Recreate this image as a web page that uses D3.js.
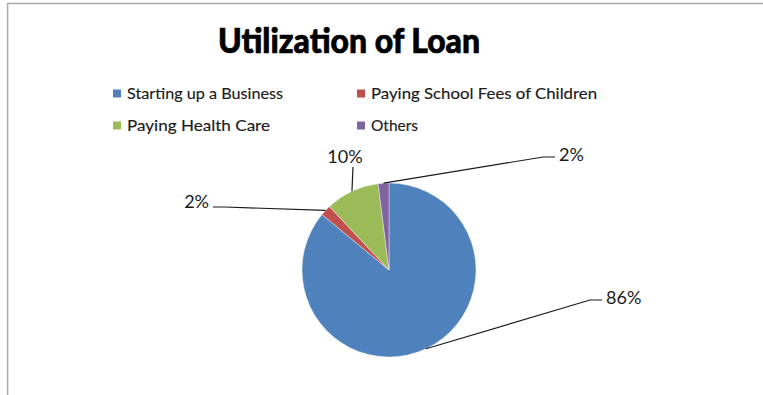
<!DOCTYPE html>
<html>
<head>
<meta charset="utf-8">
<script src="https://cdn.jsdelivr.net/npm/d3@7"></script>
<style>
  html, body { margin: 0; padding: 0; background: #fff; }
  svg { display: block; }
</style>
</head>
<body>
<svg id="chart" width="763" height="395"></svg>
<script>
// Loan usage shares (percent of respondents)
const categories = [
  "Starting up a Business",
  "Paying School Fees of Children",
  "Paying Health Care",
  "Others"
];
const shares = [86, 2, 10, 2];
const sliceColors = ["#4F81BD", "#C0504D", "#9BBB59", "#8064A2"];
const titleText = "Utilization of Loan";

// Layout settings
const W = 763, H = 395;
const cx = 389, cy = 270, radius = 87;
// Where each data label sits, relative to the pie centre.
// side: which side of the label the leader line leaves from.
const labelLayout = [
  { dx: 213, dy: 30, side: "right" },   // 86%
  { dx: -176, dy: -63, side: "left" },  // 2%
  { dx: -36, dy: -103, side: "top" },   // 10%
  { dx: 166, dy: -113, side: "right" }  // 2%
];

const svg = d3.select("#chart");

// Frame edges
svg.append("line")
  .attr("x1", 7).attr("x2", W).attr("y1", 3.6).attr("y2", 3.6)
  .attr("stroke", "#a9a9a9").attr("stroke-width", 1.5);
svg.append("line")
  .attr("x1", 7.6).attr("x2", 7.6).attr("y1", 3).attr("y2", H)
  .attr("stroke", "#a9a9a9").attr("stroke-width", 1.5);

// Title
svg.append("text")
  .attr("x", 218).attr("y", 53)
  .attr("textLength", 262).attr("lengthAdjust", "spacingAndGlyphs")
  .attr("font-family", "Lato, 'DejaVu Sans', sans-serif")
  .attr("font-weight", 900)
  .attr("font-size", 34)
  .attr("fill", "#000")
  .attr("stroke", "#000")
  .attr("stroke-width", 0.7)
  .text(titleText);

// Legend (two columns, two rows)
const legendCols = [113, 357];
const legendRows = [89.5, 121.5];
const legendWidths = [156, 226, 143, 47];
const legend = svg.append("g");
categories.forEach((name, i) => {
  const x = legendCols[i % 2], y = legendRows[Math.floor(i / 2)];
  legend.append("rect")
    .attr("x", x).attr("y", y).attr("width", 8).attr("height", 8)
    .attr("fill", sliceColors[i]);
  legend.append("text")
    .attr("x", x + 14).attr("y", y + 9.5)
    .attr("textLength", legendWidths[i]).attr("lengthAdjust", "spacingAndGlyphs")
    .attr("font-family", "Lato, 'Noto Sans', sans-serif")
    .attr("font-size", 15)
    .attr("fill", "#1a1a1a")
    .attr("stroke", "#1a1a1a")
    .attr("stroke-width", 0.15)
    .text(name);
});

// Pie
const pie = d3.pie().sort(null).value(d => d);
const arcs = pie(shares);
const arc = d3.arc().innerRadius(0).outerRadius(radius);
const edgeArc = d3.arc().innerRadius(radius).outerRadius(radius);

const g = svg.append("g").attr("transform", `translate(${cx},${cy})`);
g.selectAll("path.slice")
  .data(arcs)
  .join("path")
  .attr("class", "slice")
  .attr("d", arc)
  .attr("fill", (d, i) => sliceColors[i])
  .attr("stroke", "#ffffff")
  .attr("stroke-width", 0.4);

// Data labels with leader lines
const fmt = v => `${v}%`;
arcs.forEach((d, i) => {
  const [ax, ay] = edgeArc.centroid(d);
  const L = labelLayout[i];
  let pts, tx, ty, anchor;
  if (L.side === "right") {
    // label to the right, line leaves its left edge
    pts = [[L.dx, L.dy], [L.dx - 12, L.dy], [ax, ay]];
    tx = L.dx + 4; ty = L.dy + 3.5; anchor = "start";
  } else if (L.side === "left") {
    pts = [[L.dx, L.dy], [L.dx + 12, L.dy], [ax, ay]];
    tx = L.dx - 4; ty = L.dy + 1; anchor = "end";
  } else {
    pts = [[L.dx, L.dy], [ax, ay]];
    tx = L.dx - 8; ty = L.dy - 4; anchor = "middle";
  }
  g.append("path")
    .attr("d", d3.line()(pts))
    .attr("fill", "none")
    .attr("stroke", "#1a1a1a")
    .attr("stroke-width", 1.2);
  g.append("text")
    .attr("x", tx).attr("y", ty)
    .attr("text-anchor", anchor)
    .attr("font-family", "Lato, 'Liberation Sans', sans-serif")
    .attr("font-size", 18)
    .attr("fill", "#1a1a1a")
    .text(fmt(shares[i]));
});
</script>
</body>
</html>
